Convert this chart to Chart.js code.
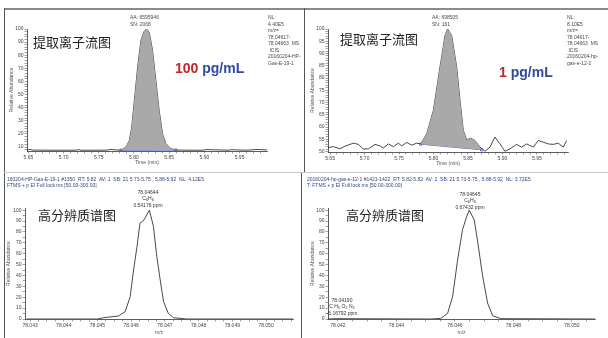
<!DOCTYPE html>
<html>
<head>
<meta charset="utf-8">
<script src="https://cdn.jsdelivr.net/npm/chart.js@4.4.0/dist/chart.umd.min.js"></script>
<style>
    body { margin: 0; background: #fff; width: 608px; height: 338px; overflow: hidden; position: relative; font-family: "Liberation Sans", Arial, sans-serif; }
    canvas { position: absolute; }
    .ln { position: absolute; background: #8a8a8a; }
    .t { position: absolute; font-size: 5px; line-height: 6.5px; color: #4a4a4a; white-space: pre; }
    .hd { position: absolute; font-size: 5px; line-height: 6px; color: #33458c; white-space: pre; }
    .pk { position: absolute; font-size: 5px; line-height: 6.3px; color: #333; white-space: pre; text-align: center; }
    .pk sub { font-size: 4px; vertical-align: -1px; line-height: 0; }
    .cn { position: absolute; font-family: "Noto Sans CJK SC", sans-serif; font-size: 13px; line-height: 13px; color: #1e1e1e; }
    .conc { position: absolute; font-weight: bold; font-size: 14px; line-height: 14px; white-space: pre; }
    .red { color: #c0262c; }
    .blue { color: #2f4aa0; }
</style>
</head>
<body>
<div class="ln" style="left:4px;top:8px;width:604px;height:1.5px;"></div>
<div class="ln" style="left:4px;top:8px;width:1px;height:330px;background:#555;"></div>
<div class="ln" style="left:304px;top:8px;width:1px;height:165px;background:#555;"></div>
<div class="ln" style="left:301px;top:173px;width:1px;height:165px;background:#555;"></div>
<div class="ln" style="left:4px;top:172px;width:604px;height:1px;background:#c8c8c8;"></div>

<canvas id="tl" width="299" height="163" style="left:5px;top:9px;"></canvas>
<canvas id="tr" width="303" height="163" style="left:305px;top:9px;"></canvas>
<canvas id="bl" width="296" height="165" style="left:5px;top:173px;"></canvas>
<canvas id="br" width="306" height="165" style="left:302px;top:173px;"></canvas>

<div class="t" style="left:130px;top:14px;line-height:7px;">AA: 6595946
SN: 2068</div>
<div class="t" style="left:268px;top:14px;">NL:
4.40E5
m/z=
78.04617-
78.04663  MS
 ICIS
20160204-HP-
Gas-E-19-1</div>
<div class="cn" style="left:33px;top:35px;">提取离子流图</div>
<div class="conc" style="left:175px;top:61px;"><span class="red">100</span> <span class="blue">pg/mL</span></div>

<div class="t" style="left:432px;top:14px;line-height:7px;">AA: 698505
SN: 161</div>
<div class="t" style="left:567px;top:14px;">NL:
8.10E5
m/z=
78.04617-
78.04663  MS
 ICIS
20160204-hp-
gas-e-12-1</div>
<div class="cn" style="left:340px;top:32px;">提取离子流图</div>
<div class="conc" style="left:499px;top:65px;"><span class="red">1</span> <span class="blue">pg/mL</span></div>

<div class="hd" style="left:7px;top:176px;">160204-HP-Gas-E-19-1 #1350  RT: 5.82  AV: 1  SB: 21 5.73-5.75 , 5.88-5.92  NL: 4.12E5
FTMS + p EI Full lock ms [50.00-300.00]</div>
<div class="pk" style="left:118px;top:189px;width:60px;">78.04644
C<sub>6</sub>H<sub>6</sub>
0.54176 ppm</div>
<div class="cn" style="left:38px;top:208px;">高分辨质谱图</div>

<div class="hd" style="left:307px;top:176px;">20160204-hp-gas-e-12-1 #1421-1422  RT: 5.82-5.82  AV: 2  SB: 21 5.73-5.75 , 5.88-5.92  NL: 3.72E5
T: FTMS + p EI Full lock ms [50.00-300.00]</div>
<div class="pk" style="left:440px;top:191px;width:60px;">78.04645
C<sub>6</sub>H<sub>6</sub>
0.67432 ppm</div>
<div class="pk" style="left:317px;top:297px;width:50px;">78.04190
C H<sub>5</sub> O<sub>2</sub> N<sub>2</sub>
-6.16792 ppm</div>
<div class="cn" style="left:346px;top:208px;">高分辨质谱图</div>

<script>
// chromatogramme 100 pg/mL
const tlTime = [5.648, 5.652, 5.656, 5.68, 5.718, 5.721, 5.724, 5.75, 5.763, 5.766, 5.7816, 5.7887, 5.7934, 5.7967, 5.8005, 5.8052, 5.8099, 5.8146, 5.8179, 5.8217, 5.8264, 5.8311, 5.8358, 5.8406, 5.8453, 5.8524, 5.8594, 5.88, 5.899, 5.902, 5.935, 5.938, 5.96, 5.975, 5.989];
const tlAbund = [7.8, 8.2, 7.7, 7.6, 7.6, 8.1, 7.6, 7.6, 7.7, 8.2, 7.6, 10, 15, 25, 45.5, 71, 91.4, 98.5, 100, 97.5, 83.7, 60.8, 37.9, 20, 12.6, 8.8, 7.7, 7.6, 7.6, 8.1, 7.6, 8.0, 7.6, 8.2, 7.8];
const tlBaseTime = [5.7816, 5.8594];
const tlBaseAbund = [7.6, 7.7];

// chromatogramme 1 pg/mL
const trTime = [5.6476, 5.6548, 5.6645, 5.6717, 5.6838, 5.6911, 5.6983, 5.7056, 5.7152, 5.7225, 5.7273, 5.7345, 5.7418, 5.7490, 5.7539, 5.7611, 5.7684, 5.7756, 5.7814, 5.7901, 5.7998, 5.8094, 5.8167, 5.8205, 5.8263, 5.8336, 5.8384, 5.8432, 5.8481, 5.8539, 5.8601, 5.8674, 5.8746, 5.8819, 5.8891, 5.8964, 5.9036, 5.9109, 5.9205, 5.9278, 5.9350, 5.9447, 5.9519, 5.9592, 5.9664, 5.9737, 5.9809, 5.9882, 5.9930];
const trAbund = [51.6, 52.0, 51.1, 52.2, 53.4, 52.9, 51.0, 51.1, 52.9, 52.3, 51.4, 53.1, 52.0, 53.4, 52.3, 53.7, 52.6, 53.4, 53.1, 57.2, 66.8, 84.5, 97.4, 100, 97.4, 84.5, 70.8, 58.6, 54.8, 55.4, 54.5, 51.8, 50.1, 51.8, 55.9, 53.1, 50.1, 51.1, 52.9, 51.8, 53.1, 51.8, 54.5, 53.8, 53.1, 52.9, 53.4, 51.8, 54.5];
const trBaseTime = [5.7814, 5.8698];
const trBaseAbund = [53.0, 50.7];

// spectres haute résolution
const blMz = [78.0429, 78.0450, 78.04518, 78.04562, 78.04582, 78.04597, 78.04607, 78.04617, 78.04626, 78.04638, 78.04654, 78.04666, 78.04676, 78.04686, 78.04696, 78.04710, 78.04725, 78.04765, 78.0508];
const blAbund = [0, 0, 1.2, 2.75, 6.7, 20.5, 45, 66, 88, 91, 100, 85, 57.5, 36, 16, 5.2, 1.2, 0, 0];
const brMz = [78.04166, 78.0419, 78.0452, 78.04552, 78.04575, 78.04592, 78.04609, 78.04626, 78.04640, 78.04649, 78.04666, 78.04677, 78.04695, 78.04712, 78.04729, 78.04757, 78.05079];
const brAbund = [0, 0.3, 0, 0.6, 5.2, 20.5, 54, 82, 94, 100, 91, 72.5, 39, 14.4, 3, 0.3, 0];

const timeTicks = [5.65, 5.70, 5.75, 5.80, 5.85, 5.90, 5.95];
const blMzTicks = [78.043, 78.044, 78.045, 78.046, 78.047, 78.048, 78.049, 78.050];
const brMzTicks = [78.042, 78.044, 78.046, 78.048, 78.050];
const tlYTicks = [10, 20, 30, 40, 50, 60, 70, 80, 90, 100];
const trYTicks = [50, 55, 60, 65, 70, 75, 80, 85, 90, 95, 100];
const specYTicks = [0, 10, 20, 30, 40, 50, 60, 70, 80, 90, 100];

function pts(xs, ys, from, to) {
    const out = [];
    xs.forEach((x, i) => {
        if (from === undefined || (x >= from - 1e-9 && x <= to + 1e-9)) out.push({ x: x, y: ys[i] });
    });
    return out;
}

function axis(o) {
    const majors = o.majors;
    const all = [];
    for (let v = o.minorFrom; v <= o.max + 1e-9; v += o.minor) {
        all.push(Math.round(v * 1e6) / 1e6);
    }
    return {
        type: 'linear',
        position: o.position,
        min: o.min,
        max: o.max,
        afterBuildTicks: function (scale) {
            scale.ticks = all.map(v => ({ value: v }));
        },
        afterFit: function (scale) {
            if (scale.isHorizontal()) scale.height = o.size;
            else scale.width = o.size;
        },
        title: { display: true, text: o.title, font: { size: 5 }, color: '#555', padding: 0 },
        border: { display: true, color: '#333', width: 0.8 },
        grid: { drawOnChartArea: false, drawTicks: true, tickLength: 2.5, color: '#444', lineWidth: 0.5 },
        ticks: {
            autoSkip: false,
            maxRotation: 0,
            minRotation: 0,
            padding: 1,
            color: '#444',
            font: { size: 5 },
            callback: function (value) {
                const hit = majors.find(m => Math.abs(m - value) < o.minor / 10);
                return hit === undefined ? '' : hit.toFixed(o.dec);
            }
        }
    };
}

function panel(id, datasets, pad, xo, yo) {
    new Chart(document.getElementById(id), {
        type: 'line',
        data: { datasets: datasets },
        options: {
            responsive: false,
            animation: false,
            layout: { padding: pad },
            plugins: { legend: { display: false }, tooltip: { enabled: false } },
            elements: { point: { radius: 0 }, line: { tension: 0 } },
            scales: { x: axis(Object.assign({ position: 'bottom' }, xo)), y: axis(Object.assign({ position: 'left' }, yo)) }
        }
    });
}

function chromSets(t, a, bt, ba) {
    return [
        { data: pts(t, a, bt[0], bt[1]), borderWidth: 0, backgroundColor: '#a9a9a9', fill: 1 },
        { data: pts(bt, ba), borderColor: '#3c4fc8', borderWidth: 0.9, pointRadius: 1.6, pointStyle: 'rect', pointBorderColor: '#3c4fc8', pointBackgroundColor: 'rgba(0,0,0,0)', pointBorderWidth: 0.7, fill: false },
        { data: pts(t, a), borderColor: '#1a1a1a', borderWidth: 0.8, fill: false }
    ];
}

panel('tl', chromSets(tlTime, tlAbund, tlBaseTime, tlBaseAbund),
    { left: 4, right: 37, top: 20, bottom: 6 },
    { min: 5.648, max: 5.989, majors: timeTicks, minor: 0.01, minorFrom: 5.65, dec: 2, size: 15, title: 'Time (min)' },
    { min: 7, max: 100, majors: tlYTicks, minor: 2, minorFrom: 8, dec: 0, size: 18, title: 'Relative Abundance' });

panel('tr', chromSets(trTime, trAbund, trBaseTime, trBaseAbund),
    { left: 5, right: 40, top: 20, bottom: 5 },
    { min: 5.647, max: 5.995, majors: timeTicks, minor: 0.01, minorFrom: 5.65, dec: 2, size: 15, title: 'Time (min)' },
    { min: 49.8, max: 100, majors: trYTicks, minor: 1, minorFrom: 50, dec: 0, size: 18, title: 'Relative Abundance' });

panel('bl', [{ data: pts(blMz, blAbund), borderColor: '#1a1a1a', borderWidth: 0.8, fill: false }],
    { left: 1, right: 8, top: 35, bottom: 2 },
    { min: 78.04285, max: 78.0508, majors: blMzTicks, minor: 0.00025, minorFrom: 78.043, dec: 3, size: 17, title: 'm/z' },
    { min: 0, max: 102, majors: specYTicks, minor: 5, minorFrom: 0, dec: 0, size: 19, title: 'Relative Abundance' });

panel('br', [{ data: pts(brMz, brAbund), borderColor: '#1a1a1a', borderWidth: 0.8, fill: false }],
    { left: 8, right: 13, top: 35, bottom: 2 },
    { min: 78.04166, max: 78.05079, majors: brMzTicks, minor: 0.0005, minorFrom: 78.042, dec: 3, size: 17, title: 'm/z' },
    { min: 0, max: 102, majors: specYTicks, minor: 5, minorFrom: 0, dec: 0, size: 18, title: 'Relative Abundance' });
</script>
</body>
</html>
